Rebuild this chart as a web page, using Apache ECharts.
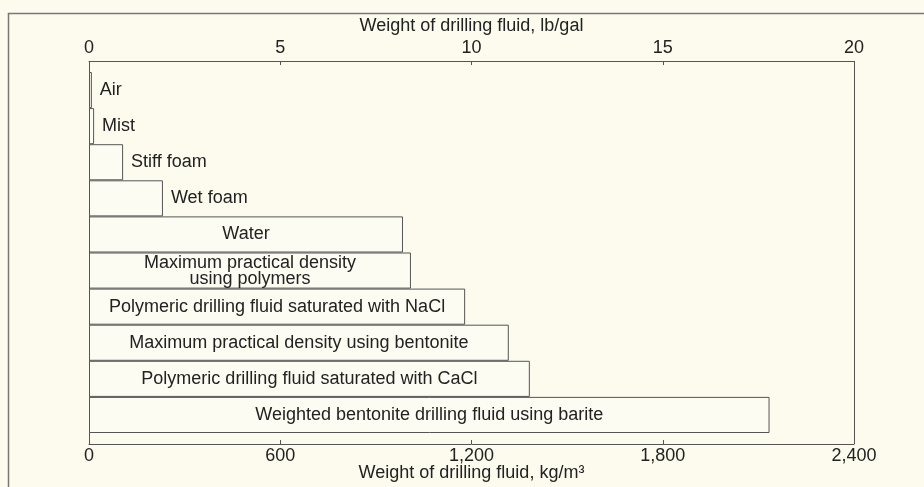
<!DOCTYPE html>
<html>
<head>
<meta charset="utf-8">
<script src="https://cdn.jsdelivr.net/npm/echarts@6/dist/echarts.min.js"></script>
<style>
  html,body{margin:0;padding:0;background:#fcfbee;}
  #chart{width:924px;height:487px;}
</style>
</head>
<body>
<div id="chart"></div>
<script>
// fluid types, top to bottom
var categories = [
    'Air',
    'Mist',
    'Stiff foam',
    'Wet foam',
    'Water',
    'Maximum practical density\nusing polymers',
    'Polymeric drilling fluid saturated with NaCl',
    'Maximum practical density using bentonite',
    'Polymeric drilling fluid saturated with CaCl',
    'Weighted bentonite drilling fluid using barite'
];
// weight, kg/m3
var weights = [9, 16, 107, 232, 985, 1010, 1180, 1317, 1383, 2135];
// label outside the bar for the short ones
var labelOutside = [true, true, true, true, false, false, false, false, false, false];
var lbTicks = [0, 5, 10, 15, 20];
var kgTicks = [0, 600, 1200, 1800, 2400];

var lineColor = '#555';
var textColor = '#222';
var font = '"Liberation Sans", Arial, sans-serif';

var chart = echarts.init(document.getElementById('chart'));

var barData = weights.map(function (v, i) {
    return {
        value: v,
        label: labelOutside[i]
            ? {position: 'right', distance: 8}
            : {position: 'inside'}
    };
});

chart.setOption({
    backgroundColor: '#fcfbee',
    animation: false,
    textStyle: {fontFamily: font},
    grid: {left: 89, right: 70, top: 72, bottom: 54, outerBoundsMode: 'none', containLabel: false},
    xAxis: [
        {
            type: 'value',
            position: 'top',
            offset: 11,
            min: lbTicks[0],
            max: lbTicks[lbTicks.length - 1],
            interval: 5,
            name: 'Weight of drilling fluid, lb/gal',
            nameLocation: 'middle',
            nameGap: 26,
            nameMoveOverlap: false,
            nameTextStyle: {color: textColor, fontSize: 18, fontFamily: font},
            axisLine: {show: true, lineStyle: {color: lineColor, width: 1}},
            axisTick: {show: true, inside: true, length: 4, lineStyle: {color: lineColor}},
            axisLabel: {color: textColor, fontSize: 18, margin: 4, fontFamily: font},
            splitLine: {show: false}
        },
        {
            type: 'value',
            position: 'bottom',
            offset: 11,
            min: kgTicks[0],
            max: kgTicks[kgTicks.length - 1],
            interval: 600,
            name: 'Weight of drilling fluid, kg/m³',
            nameLocation: 'middle',
            nameGap: 20,
            nameMoveOverlap: false,
            nameTextStyle: {color: textColor, fontSize: 18, fontFamily: font},
            axisLine: {show: true, lineStyle: {color: lineColor, width: 1}},
            axisTick: {show: true, inside: true, length: 4, lineStyle: {color: lineColor}},
            axisLabel: {
                color: textColor, fontSize: 18, margin: 3, fontFamily: font,
                formatter: function (v) { return v.toLocaleString('en-US'); }
            },
            splitLine: {show: false}
        }
    ],
    yAxis: {
        type: 'category',
        inverse: true,
        data: categories,
        axisLine: {show: false},
        axisTick: {show: false},
        axisLabel: {show: false}
    },
    series: [{
        type: 'bar',
        xAxisIndex: 1,
        barWidth: '100%',
        data: barData,
        itemStyle: {color: '#fdfcf2', borderColor: lineColor, borderWidth: 1},
        label: {
            show: true,
            formatter: function (p) { return p.name; },
            color: textColor,
            fontSize: 18,
            lineHeight: 16,
            fontFamily: font
        }
    }],
    graphic: [
        {type: 'rect', silent: true, shape: {x: 8.5, y: 13.5, width: 940, height: 500},
         style: {fill: null, stroke: '#777', lineWidth: 1.5}},
        {type: 'line', silent: true, shape: {x1: 89.5, y1: 61, x2: 89.5, y2: 444},
         style: {stroke: lineColor, lineWidth: 1}},
        {type: 'line', silent: true, shape: {x1: 854.5, y1: 61, x2: 854.5, y2: 444},
         style: {stroke: lineColor, lineWidth: 1}}
    ]
});
</script>
</body>
</html>
